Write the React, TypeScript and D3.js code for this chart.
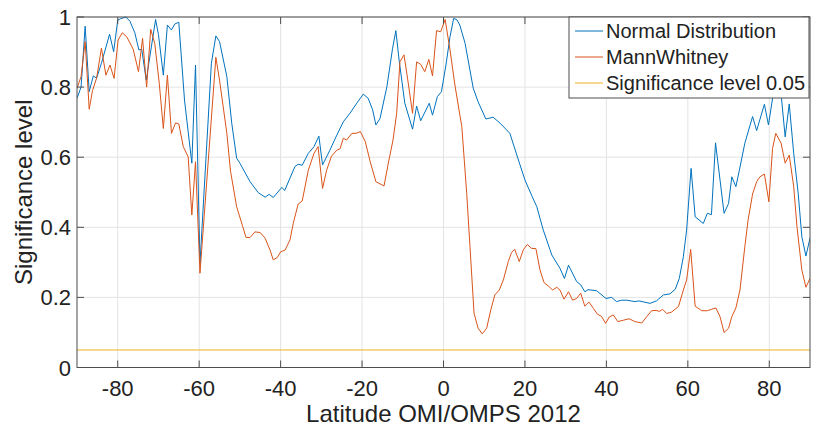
import React from "react";
import * as d3 from "d3";

const normalLat = [-90,-89,-88,-87,-86,-85.2,-84,-82,-81,-80,-79.3,-78,-77,-75.8,-74.8,-74.1,-73,-70.7,-70,-68.8,-67.8,-66.8,-66,-65,-63.6,-61.8,-60.9,-59.8,-57,-55.9,-55,-53.2,-52,-50.8,-50,-47.5,-45.5,-43.8,-42.8,-41.8,-39.7,-39,-36.5,-35.7,-34.7,-33.2,-31.8,-30.6,-29.7,-27.9,-26.2,-24.6,-23,-21.3,-19.7,-18.5,-17.4,-16.6,-15.6,-13.9,-12.5,-11.7,-10.9,-9.5,-7.6,-6.6,-5.6,-3.5,-2.7,-1.5,-0.5,0.6,1.6,2.5,3.3,4,5.3,7.3,8.5,10.4,12.2,13.9,16.3,18.4,20,21.8,22.9,24.5,26.6,28.6,29.7,30.7,32.7,33.7,34.7,35.5,37.6,39.9,41.3,42.5,43.7,45,47,48,50.7,52.3,54,55.6,56.9,57.9,58.9,59.7,60.8,61.8,63.8,64.8,65.8,66.8,68.9,70,70.8,71.8,72.6,74,75.9,76.9,78.8,79.8,81,81.7,82.9,83.9,84.9,86,87.1,88,89,90];
const normalVal = [0.768,0.8,0.974,0.787,0.832,0.825,0.868,0.951,0.901,0.991,0.995,1.0,0.988,0.955,0.906,0.908,0.82,0.993,0.95,0.834,0.977,0.963,0.98,0.985,0.763,0.583,0.863,0.297,0.868,0.946,0.93,0.83,0.697,0.597,0.583,0.53,0.499,0.486,0.494,0.485,0.514,0.505,0.573,0.58,0.577,0.611,0.63,0.66,0.578,0.62,0.663,0.701,0.725,0.754,0.78,0.768,0.735,0.692,0.71,0.801,0.911,0.961,0.877,0.754,0.68,0.746,0.704,0.754,0.72,0.773,0.787,0.863,0.944,0.996,0.992,0.977,0.925,0.797,0.758,0.709,0.714,0.697,0.668,0.592,0.535,0.487,0.459,0.392,0.321,0.283,0.254,0.292,0.245,0.236,0.216,0.222,0.219,0.197,0.2,0.188,0.192,0.192,0.188,0.19,0.183,0.19,0.207,0.21,0.223,0.254,0.316,0.392,0.568,0.43,0.411,0.44,0.436,0.641,0.44,0.468,0.544,0.516,0.56,0.64,0.716,0.676,0.751,0.692,0.782,0.83,0.78,0.658,0.752,0.611,0.497,0.373,0.318,0.369];

const mannLat = [-90,-89,-88,-87,-86.2,-85.2,-84,-82.9,-81.9,-80.9,-79.9,-78.9,-77.8,-76.2,-74.9,-73.9,-72.9,-71.9,-70.9,-69.8,-68.8,-67.8,-66.8,-65.8,-65,-63.9,-62.7,-61.8,-60.9,-59.8,-55.9,-55,-53.2,-52.3,-50.8,-49.3,-48.5,-47.5,-46.3,-45,-43.8,-42.6,-41.8,-40.8,-40,-38.9,-37.7,-36.9,-35.7,-34.7,-33.2,-31.8,-30.8,-29.7,-28.7,-27.5,-26.2,-25.4,-24.6,-23.8,-22.5,-21.5,-20.4,-19.2,-18,-16.6,-14.6,-13.6,-12.4,-11.5,-10.7,-9.7,-8.7,-7.6,-6.6,-5.6,-4.6,-3.6,-2.7,-1.7,-0.7,0.4,1.6,2.8,4.5,5.7,6.5,7.5,8.5,9.5,10.6,11.6,12.6,13.7,14.7,15.9,16.7,17.5,18.6,19.6,20.6,21.6,22.7,23.7,24.7,25.8,26.8,27.8,28.6,29.6,30.7,31.7,32.7,33.7,34.7,35.7,36.8,37.8,38.8,39.8,40.7,41.7,42.8,44.2,45.6,47,48.7,49.9,51.1,52.2,53,53.8,54.8,56,57.7,58.9,59.7,60.7,61.8,63.4,64.8,65.8,66.9,67.9,68.9,70,70.8,71.8,72.8,74,74.8,75.9,76.9,77.7,78.8,79.9,80.8,81.6,82.9,83.9,84.9,86,86.8,88,89,90];
const mannVal = [0.797,0.83,0.93,0.737,0.79,0.825,0.911,0.834,0.863,0.825,0.934,0.955,0.944,0.908,0.844,0.939,0.8,0.965,0.924,0.811,0.682,0.834,0.668,0.698,0.695,0.63,0.601,0.435,0.587,0.269,0.885,0.82,0.668,0.56,0.459,0.402,0.371,0.371,0.387,0.385,0.369,0.335,0.307,0.314,0.33,0.335,0.364,0.411,0.466,0.475,0.563,0.611,0.63,0.511,0.563,0.603,0.62,0.624,0.654,0.649,0.668,0.668,0.673,0.644,0.587,0.53,0.518,0.58,0.649,0.725,0.872,0.892,0.815,0.725,0.872,0.865,0.844,0.879,0.832,0.961,0.958,0.993,0.906,0.806,0.687,0.497,0.345,0.155,0.112,0.096,0.112,0.164,0.207,0.221,0.25,0.302,0.328,0.337,0.302,0.336,0.351,0.34,0.339,0.278,0.242,0.232,0.221,0.229,0.221,0.195,0.216,0.192,0.197,0.212,0.175,0.187,0.169,0.152,0.146,0.126,0.144,0.15,0.131,0.135,0.139,0.131,0.127,0.145,0.162,0.163,0.16,0.166,0.154,0.158,0.174,0.221,0.25,0.337,0.175,0.162,0.162,0.166,0.17,0.145,0.1,0.112,0.145,0.17,0.221,0.345,0.421,0.495,0.53,0.544,0.552,0.473,0.625,0.668,0.64,0.583,0.606,0.516,0.402,0.278,0.229,0.254];

const significance = 0.05;
const xTicks = [-80, -60, -40, -20, 0, 20, 40, 60, 80];
const yTicks = [0, 0.2, 0.4, 0.6, 0.8, 1];
const legendLabels = ["Normal Distribution", "MannWhitney", "Significance level 0.05"];
const seriesColors = ["#0072BD", "#D95319", "#EDB120"];

const W = 815, H = 437;
const L = 77, R = 810, T = 17, B = 367.5;
const FONT = "'Liberation Sans', Arial, Helvetica, sans-serif";

export default function App() {
  const x = d3.scaleLinear().domain([-90, 90]).range([L, R]);
  const y = d3.scaleLinear().domain([0, 1]).range([B, T]);
  const line = d3.line<[number, number]>().x(d => x(d[0])).y(d => y(d[1]));
  const normal = normalLat.map((d, i) => [d, normalVal[i]] as [number, number]);
  const mann = mannLat.map((d, i) => [d, mannVal[i]] as [number, number]);
  const sig: [number, number][] = [[-90, significance], [90, significance]];
  const axisColor = "#4d4d4d";
  const tl = 7;

  return (
    <svg width={W} height={H} style={{ position: "absolute", left: 0, top: 0, background: "#fff" }} fontFamily={FONT}>
      <defs>
        <clipPath id="plotclip"><rect x={L} y={T - 1} width={R - L} height={B - T + 2} /></clipPath>
      </defs>
      <rect x={0} y={0} width={W} height={H} fill="#fff" />
      {/* grid */}
      {xTicks.map(t => <line key={"gx" + t} x1={x(t)} x2={x(t)} y1={T} y2={B} stroke="#e3e3e3" strokeWidth={1} />)}
      {yTicks.map(t => <line key={"gy" + t} x1={L} x2={R} y1={y(t)} y2={y(t)} stroke="#e3e3e3" strokeWidth={1} />)}
      {/* data */}
      <g clipPath="url(#plotclip)" fill="none" strokeWidth={1} strokeLinejoin="round">
        <path d={line(normal) || ""} stroke={seriesColors[0]} />
        <path d={line(mann) || ""} stroke={seriesColors[1]} />
        <path d={line(sig) || ""} stroke={seriesColors[2]} />
      </g>
      {/* box & ticks */}
      <rect x={L} y={T} width={R - L} height={B - T} fill="none" stroke={axisColor} strokeWidth={1} />
      {xTicks.map(t => (
        <g key={"tx" + t}>
          <line x1={x(t)} x2={x(t)} y1={B} y2={B - tl} stroke={axisColor} />
          <line x1={x(t)} x2={x(t)} y1={T} y2={T + tl} stroke={axisColor} />
          <text x={x(t)} y={396} fontSize={22} textAnchor="middle" fill="#222">{t}</text>
        </g>
      ))}
      {yTicks.map(t => (
        <g key={"ty" + t}>
          <line x1={L} x2={L + tl} y1={y(t)} y2={y(t)} stroke={axisColor} />
          <line x1={R} x2={R - tl} y1={y(t)} y2={y(t)} stroke={axisColor} />
          <text x={71} y={y(t) + 8} fontSize={22} textAnchor="end" fill="#222">{String(t)}</text>
        </g>
      ))}
      <text x={(L + R) / 2} y={422} fontSize={24} textAnchor="middle" fill="#222">Latitude OMI/OMPS 2012</text>
      <text transform={`translate(32,${(T + B) / 2}) rotate(-90)`} fontSize={24} textAnchor="middle" fill="#222">Significance level</text>
      {/* legend */}
      <g>
        <rect x={569} y={T} width={240} height={81} fill="#fff" stroke={axisColor} strokeWidth={1} />
        {legendLabels.map((lab, i) => (
          <g key={lab}>
            <line x1={575} x2={603} y1={31 + i * 26} y2={31 + i * 26} stroke={seriesColors[i]} strokeWidth={1} />
            <text x={606} y={38 + i * 26} fontSize={20} fill="#222">{lab}</text>
          </g>
        ))}
      </g>
    </svg>
  );
}
